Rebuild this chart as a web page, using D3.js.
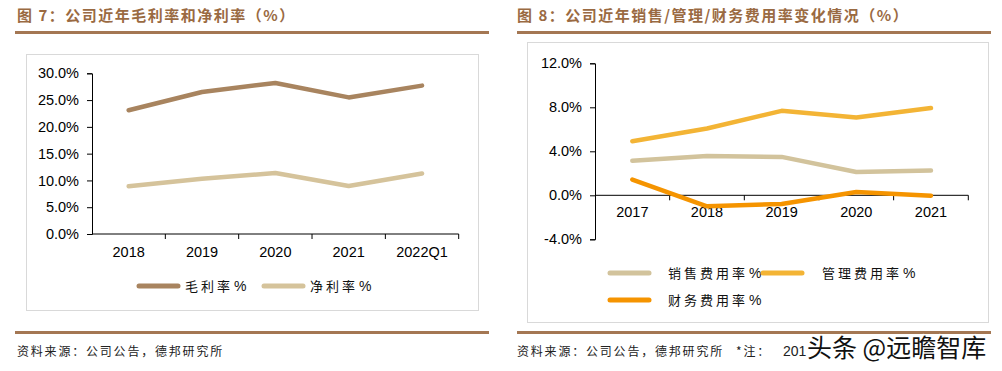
<!DOCTYPE html>
<html>
<head>
<meta charset="utf-8">
<script src="https://cdn.jsdelivr.net/npm/d3@7"></script>
<style>
  body { margin: 0; background: #fff; }
  text { font-family: "Liberation Sans", Arial, sans-serif; }
  .cjk { font-family: "Noto Sans CJK SC", sans-serif; }
</style>
</head>
<body>
<div id="chart"></div>
<script>
// left chart data
const years1 = ["2018", "2019", "2020", "2021", "2022Q1"];
const grossMargin = [23.1, 26.5, 28.2, 25.5, 27.7];
const netMargin = [8.9, 10.3, 11.4, 8.95, 11.3];
const yTicks1 = [0, 5, 10, 15, 20, 25, 30];

// right chart data
const years2 = ["2017", "2018", "2019", "2020", "2021"];
const sellRate = [3.13, 3.58, 3.49, 2.12, 2.25];
const adminRate = [4.92, 6.07, 7.68, 7.08, 7.93];
const finRate = [1.43, -1.0, -0.79, 0.3, -0.03];
const yTicks2 = [-4, 0, 4, 8, 12];

const width = 1002, height = 371;
const brown = "#a47753";

const svg = d3.select("#chart").append("svg")
  .attr("width", width)
  .attr("height", height);

// titles + rules
const titles = [
  {x: 17, text: "图 7：公司近年毛利率和净利率（%）", x1: 15, x2: 489},
  {x: 517, text: "图 8：公司近年销售/管理/财务费用率变化情况（%）", x1: 517, x2: 991}
];
titles.forEach(t => {
  svg.append("text").attr("class", "cjk")
    .attr("x", t.x).attr("y", 21)
    .attr("fill", "#9a6a42")
    .style("font-size", "15px").style("font-weight", "bold")
    .style("letter-spacing", "1.5px")
    .text(t.text);
  svg.append("rect").attr("x", t.x1).attr("y", 31).attr("width", t.x2 - t.x1).attr("height", 3).attr("fill", brown);
  svg.append("rect").attr("x", t.x1).attr("y", 331).attr("width", t.x2 - t.x1).attr("height", 3).attr("fill", brown);
});

// panel boxes
svg.append("rect").attr("x", 26.5).attr("y", 54.5).attr("width", 452).attr("height", 256)
  .attr("fill", "none").attr("stroke", "#d9d9d9");
svg.append("rect").attr("x", 527.5).attr("y", 42.5).attr("width", 461).attr("height", 280)
  .attr("fill", "none").attr("stroke", "#d9d9d9");

// footers
svg.append("text").attr("class", "cjk").attr("x", 17).attr("y", 356)
  .style("font-size", "12px").style("letter-spacing", "1.8px").attr("fill", "#222")
  .text("资料来源：公司公告，德邦研究所");
const foot2 = svg.append("text").attr("class", "cjk").attr("x", 517).attr("y", 356)
  .style("font-size", "12px").attr("fill", "#222");
foot2.append("tspan").style("letter-spacing", "1.8px").text("资料来源：公司公告，德邦研究所");
foot2.append("tspan").attr("dx", 12).style("letter-spacing", "1.8px").text("*注：");
foot2.append("tspan").attr("dx", 12).style("font-family", "Liberation Sans, Arial, sans-serif")
  .style("font-size", "14px").text("201");
svg.append("text").attr("class", "cjk").attr("x", 807).attr("y", 357)
  .style("font-size", "25px").attr("fill", "#111")
  .attr("stroke", "#fff").attr("stroke-width", 3).attr("paint-order", "stroke")
  .text("头条 @远瞻智库");

function drawChart(cfg) {
  const g = svg.append("g");
  const x = d3.scaleBand().domain(cfg.cats).range(cfg.xRange);
  const y = d3.scaleLinear().domain(cfg.yDomain).range(cfg.yRange);

  // y axis
  const yAxis = g.append("g")
    .attr("transform", `translate(${cfg.xRange[0]},0)`)
    .call(d3.axisLeft(y).tickValues(cfg.yTicks).tickSize(5).tickPadding(8)
      .tickFormat(d => d.toFixed(1) + "%"));
  yAxis.select(".domain").attr("stroke", "#000");
  yAxis.selectAll("text").style("font-size", "14.5px").attr("fill", "#000");

  // x axis line with boundary ticks
  const y0 = y(0);
  g.append("line").attr("x1", cfg.xRange[0]).attr("x2", cfg.xRange[1])
    .attr("y1", y0).attr("y2", y0).attr("stroke", "#000");
  const bounds = cfg.cats.slice(1).map(c => x(c)).concat([cfg.xRange[1]]);
  g.selectAll(".xt").data(bounds).enter().append("line")
    .attr("x1", d => d).attr("x2", d => d)
    .attr("y1", y0).attr("y2", y0 + 5).attr("stroke", "#000");
  g.selectAll(".xl").data(cfg.cats).enter().append("text")
    .attr("x", d => x(d) + x.bandwidth() / 2)
    .attr("y", y0 + cfg.labelDy)
    .attr("text-anchor", "middle")
    .style("font-size", "14.5px")
    .text(d => d);

  const line = d3.line()
    .x((d, i) => x(cfg.cats[i]) + x.bandwidth() / 2)
    .y(d => y(d));

  cfg.series.forEach(s => {
    g.append("path").datum(s.values)
      .attr("d", line)
      .attr("fill", "none")
      .attr("stroke", s.color)
      .attr("stroke-width", 4.5)
      .attr("stroke-linecap", "round")
      .attr("stroke-linejoin", "round");
  });

  // legend
  cfg.series.forEach(s => {
    const lg = g.append("g").attr("transform", `translate(${s.lx},${s.ly})`);
    lg.append("line").attr("x1", 0).attr("x2", 39).attr("y1", 0).attr("y2", 0)
      .attr("stroke", s.color).attr("stroke-width", 5).attr("stroke-linecap", "round");
    const t = lg.append("text").attr("x", s.tx).attr("y", 5).attr("fill", "#111");
    t.append("tspan").attr("class", "cjk")
      .style("font-size", "13px").style("letter-spacing", "3px")
      .text(s.name.replace(" %", ""));
    t.append("tspan").attr("dx", 1).style("font-size", "14px").text("%");
  });
}

drawChart({
  cats: years1,
  xRange: [92, 458.7],
  yDomain: [0, 30],
  yRange: [234, 73.3],
  yTicks: yTicks1,
  labelDy: 23,
  series: [
    {name: "毛利率 %", values: grossMargin, color: "#a8845f", lx: 139, ly: 286, tx: 46},
    {name: "净利率 %", values: netMargin, color: "#d5c39b", lx: 264, ly: 286, tx: 46}
  ]
});

drawChart({
  cats: years2,
  xRange: [595, 968.3],
  yDomain: [-4, 12],
  yRange: [239.3, 63.3],
  yTicks: yTicks2,
  labelDy: 22,
  series: [
    {name: "销售费用率 %", values: sellRate, color: "#d2c39c", lx: 610, ly: 273, tx: 58},
    {name: "管理费用率 %", values: adminRate, color: "#f3b435", lx: 763, ly: 273, tx: 59},
    {name: "财务费用率 %", values: finRate, color: "#f59400", lx: 610, ly: 300, tx: 58}
  ]
});
</script>
</body>
</html>
